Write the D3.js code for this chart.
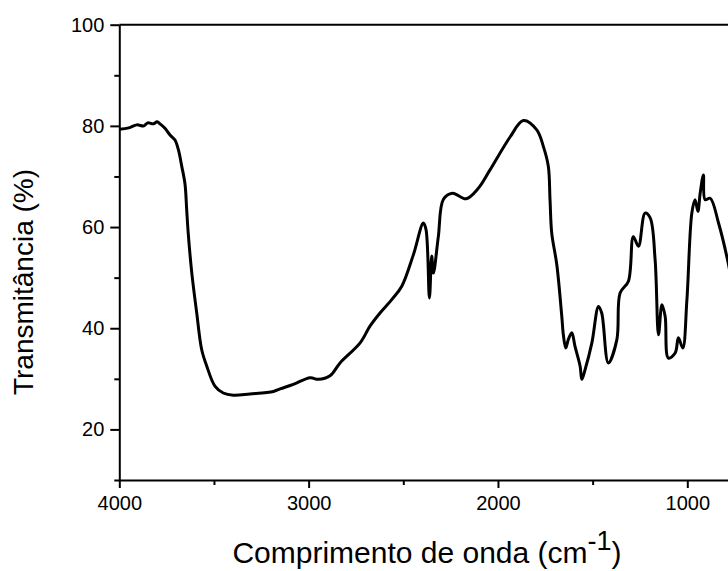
<!DOCTYPE html>
<html>
<head>
<meta charset="utf-8">
<script src="https://cdn.jsdelivr.net/npm/d3@7"></script>
<style>
  body { margin: 0; background: #fff; }
  svg { display: block; }
  .axis text { font-family: "Liberation Sans", Arial, sans-serif; font-size: 20px; fill: #000; }
  .axis path, .axis line { stroke: #000; stroke-width: 2px; }
</style>
</head>
<body>
<div id="chart"></div>
<script>
// FTIR spectrum, values
var wavenumber = [4000, 3950, 3908, 3870, 3850, 3820, 3800, 3785, 3759, 3732, 3706, 3688, 3670, 3653,
  3644, 3636, 3617, 3591, 3565, 3538, 3494, 3451, 3398, 3310, 3186, 3151, 3081, 2992, 2949, 2887,
  2834, 2728, 2676, 2623, 2561, 2508, 2447, 2394, 2380, 2362, 2350, 2341, 2315, 2288, 2240, 2168,
  2105, 2042, 1936, 1866, 1795, 1760, 1734, 1725, 1716, 1689, 1663, 1654, 1642, 1628, 1610, 1593,
  1566, 1557, 1540, 1504, 1469, 1452, 1417, 1372, 1355, 1311, 1285, 1258, 1223, 1196, 1170, 1152,
  1134, 1117, 1100, 1064, 1047, 1024, 1002, 976, 959, 944, 932, 915, 906, 879, 835, 784, 770];
var transmittance = [79.35, 79.6, 80.2, 80.0, 80.6, 80.4, 80.8, 80.4, 79.55, 78.2, 77.2, 75.3, 72.0, 68.5,
  63.4, 58.8, 50.9, 43.0, 35.8, 32.5, 28.5, 27.2, 26.75, 27.0, 27.5, 28.0, 28.9, 30.2, 29.9, 30.6,
  33.15, 37.1, 40.4, 43.0, 45.65, 48.3, 54.5, 60.8, 59.5, 46.0, 54.3, 50.9, 58.1, 65.5, 66.7, 65.6,
  67.6, 71.3, 77.8, 81.05, 79.2, 75.9, 72.0, 65.4, 58.8, 52.5, 42.4, 38.5, 36.1, 37.8, 39.1, 36.4,
  32.5, 29.9, 31.8, 37.1, 44.3, 43.0, 33.15, 37.75, 46.95, 49.3, 58.1, 56.2, 62.75, 61.8, 53.55, 38.7,
  44.65, 42.35, 34.1, 35.1, 38.1, 36.1, 45.65, 62.75, 65.4, 63.1, 66.7, 70.3, 65.4, 65.7, 60.8, 52.9, 50.0];

var xMajor = [4000, 3000, 2000, 1000];
var xMinor = [3500, 2500, 1500];
var yMajor = [20, 40, 60, 80, 100];
var yMinor = [10, 30, 50, 70, 90];

var width = 728, height = 571;
var plotLeft = 119.3, plotTop = 24.7, plotBottom = 480;
var plotRight = 728; // plot is cut at the right edge of the picture

var svg = d3.select("#chart")
  .append("svg")
  .attr("width", width)
  .attr("height", height);

// x runs from high to low wavenumber
var x = d3.scaleLinear()
  .domain([4000, 785])
  .range([plotLeft, plotRight]);

var y = d3.scaleLinear()
  .domain([10, 100])
  .range([plotBottom, plotTop]);

svg.append("clipPath")
  .attr("id", "plotclip")
  .append("rect")
  .attr("x", plotLeft)
  .attr("y", plotTop - 5)
  .attr("width", plotRight - plotLeft)
  .attr("height", plotBottom - plotTop + 10);

// minor ticks
svg.append("g")
  .attr("class", "axis")
  .attr("transform", "translate(0," + plotBottom + ")")
  .call(d3.axisBottom(x).tickValues(xMinor).tickSize(5).tickFormat("").tickSizeOuter(0))
  .select(".domain").remove();

svg.append("g")
  .attr("class", "axis")
  .attr("transform", "translate(" + plotLeft + ",0)")
  .call(d3.axisLeft(y).tickValues(yMinor).tickSize(5).tickFormat("").tickSizeOuter(0))
  .select(".domain").remove();

// major ticks + axis lines
svg.append("g")
  .attr("class", "axis")
  .attr("transform", "translate(0," + plotBottom + ")")
  .call(d3.axisBottom(x).tickValues(xMajor).tickSize(8).tickPadding(8).tickSizeOuter(0).tickFormat(d3.format("d")));

svg.append("g")
  .attr("class", "axis")
  .attr("transform", "translate(" + plotLeft + ",0)")
  .call(d3.axisLeft(y).tickValues(yMajor).tickSize(9).tickPadding(6).tickSizeOuter(0).tickFormat(d3.format("d")));

// top frame line
svg.append("line")
  .attr("x1", x(4000))
  .attr("x2", plotRight)
  .attr("y1", y(100))
  .attr("y2", y(100))
  .attr("stroke", "#000")
  .attr("stroke-width", 2);

// spectrum
var data = wavenumber.map(function (d, i) { return [d, transmittance[i]]; });

var line = d3.line()
  .x(function (d) { return x(d[0]); })
  .y(function (d) { return y(d[1]); })
  .curve(d3.curveCatmullRom.alpha(0.5));

svg.append("path")
  .datum(data)
  .attr("clip-path", "url(#plotclip)")
  .attr("d", line)
  .attr("fill", "none")
  .attr("stroke", "#000")
  .attr("stroke-width", 3)
  .attr("stroke-linejoin", "round");

// axis titles
svg.append("text")
  .attr("transform", "translate(33,282) rotate(-90)")
  .attr("text-anchor", "middle")
  .style("font-family", "'Liberation Sans', Arial, sans-serif")
  .style("font-size", "28px")
  .text("Transmitância (%)");

var xt = svg.append("text")
  .attr("x", 427)
  .attr("y", 563)
  .attr("text-anchor", "middle")
  .style("font-family", "'Liberation Sans', Arial, sans-serif")
  .style("font-size", "30px");
xt.append("tspan").text("Comprimento de onda (cm");
xt.append("tspan").attr("dy", "-0.5em").style("font-size", "27px").text("-1");
xt.append("tspan").attr("dy", "0.45em").text(")");
</script>
</body>
</html>
